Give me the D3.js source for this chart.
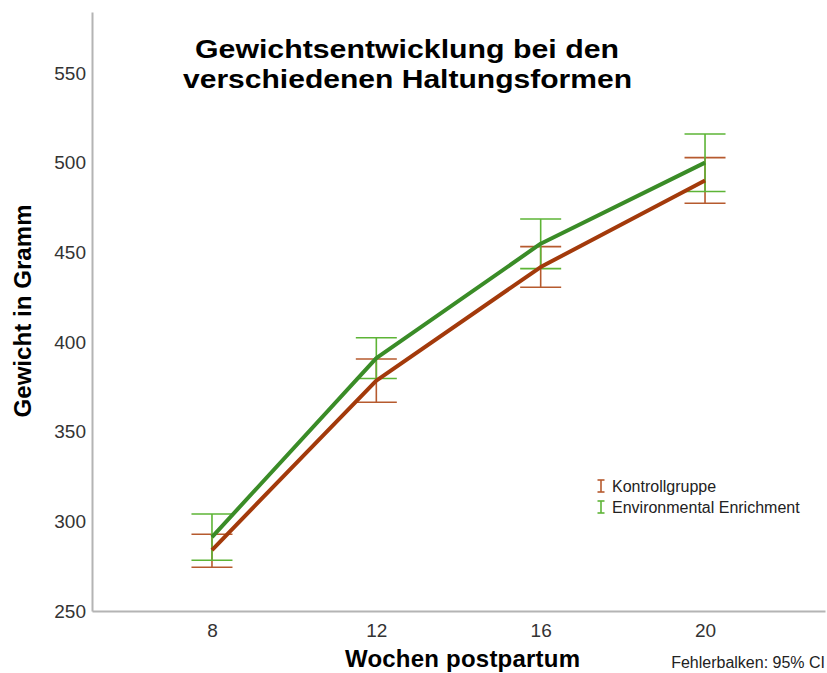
<!DOCTYPE html>
<html><head><meta charset="utf-8">
<script src="https://cdn.jsdelivr.net/npm/d3@7"></script>
<style>body{margin:0;background:#fff}svg{display:block}text{font-family:"Liberation Sans",Arial,sans-serif}</style>
</head><body>
<script>
const weeks = ["8","12","16","20"];
const seriesNames = ["Kontrollgruppe","Environmental Enrichment"];
const kontrollMean = [284.0, 378.5, 441.8, 490.1];
const kontrollLow  = [274.4, 366.4, 430.5, 477.4];
const kontrollHigh = [292.8, 390.5, 453.2, 502.8];
const enrichMean = [291.2, 391.0, 454.8, 500.0];
const enrichLow  = [278.3, 379.6, 440.9, 483.9];
const enrichHigh = [304.1, 402.4, 468.6, 516.0];
const yTicks = [250, 300, 350, 400, 450, 500, 550];
const lineColors = ["#a33a0b", "#3a8c27"];
const barColors = ["#b65a2e", "#5db436"];

const W = 827, H = 673;
const svg = d3.select("body").append("svg").attr("width", W).attr("height", H);

const x = d3.scalePoint().domain(weeks).range([92, 825]).padding(0.73);
const y = d3.scaleLinear().domain([250, 584]).range([611, 12]);

// axes
const yAxis = svg.append("g").attr("transform","translate(92,0)")
  .call(d3.axisLeft(y).tickValues(yTicks).tickSize(0).tickPadding(6));
yAxis.select(".domain").attr("stroke","#b4b4b4").attr("stroke-width",2);
yAxis.selectAll("text").attr("font-size",19).attr("fill","#333");
const xAxis = svg.append("g").attr("transform","translate(0,611)")
  .call(d3.axisBottom(x).tickSize(0).tickPadding(13));
xAxis.select(".domain").attr("stroke","#b4b4b4").attr("stroke-width",2);
xAxis.selectAll("text").attr("font-size",19).attr("fill","#333");

const series = [
  {name: seriesNames[0], mean: kontrollMean, lo: kontrollLow, hi: kontrollHigh, i: 0},
  {name: seriesNames[1], mean: enrichMean, lo: enrichLow, hi: enrichHigh, i: 1}
];
const capW = 20.5;
series.forEach(s => {
  const g = svg.append("g");
  weeks.forEach((w, k) => {
    const cx = x(w);
    g.append("line").attr("x1",cx).attr("x2",cx).attr("y1",y(s.lo[k])).attr("y2",y(s.hi[k]))
      .attr("stroke",barColors[s.i]).attr("stroke-width",1.6);
    [s.lo[k], s.hi[k]].forEach(v => g.append("line").attr("x1",cx-capW).attr("x2",cx+capW)
      .attr("y1",y(v)).attr("y2",y(v)).attr("stroke",barColors[s.i]).attr("stroke-width",1.6));
  });
});
series.forEach(s => {
  const line = d3.line().x((d,k)=>x(weeks[k])).y(d=>y(d));
  svg.append("path").datum(s.mean).attr("d", line).attr("fill","none")
    .attr("stroke",lineColors[s.i]).attr("stroke-width",4).attr("stroke-linejoin","round");
});

// legend
series.forEach((s, k) => {
  const ly = 486 + k*21, lx = 601;
  const g = svg.append("g");
  g.append("line").attr("x1",lx).attr("x2",lx).attr("y1",ly-6).attr("y2",ly+6).attr("stroke",barColors[s.i]).attr("stroke-width",1.6);
  g.append("line").attr("x1",lx-3.5).attr("x2",lx+3.5).attr("y1",ly-6).attr("y2",ly-6).attr("stroke",barColors[s.i]).attr("stroke-width",1.6);
  g.append("line").attr("x1",lx-3.5).attr("x2",lx+3.5).attr("y1",ly+6).attr("y2",ly+6).attr("stroke",barColors[s.i]).attr("stroke-width",1.6);
  g.append("text").attr("x",612).attr("y",ly+6).attr("font-size",16).attr("fill","#222").text(s.name);
});

// titles
svg.append("text").attr("x",407).attr("y",58).attr("text-anchor","middle").attr("font-size",25).attr("font-weight","bold").attr("fill","#000")
  .attr("textLength",424).attr("lengthAdjust","spacingAndGlyphs").text("Gewichtsentwicklung bei den");
svg.append("text").attr("x",407.5).attr("y",88).attr("text-anchor","middle").attr("font-size",25).attr("font-weight","bold").attr("fill","#000")
  .attr("textLength",449).attr("lengthAdjust","spacingAndGlyphs").text("verschiedenen Haltungsformen");

svg.append("text").attr("x",462.5).attr("y",667).attr("text-anchor","middle").attr("font-size",24).attr("font-weight","bold").attr("fill","#000")
  .attr("textLength",235).attr("lengthAdjust","spacing").text("Wochen postpartum");
svg.append("text").attr("transform","translate(31,311) rotate(-90)").attr("text-anchor","middle").attr("font-size",24).attr("font-weight","bold").attr("fill","#000")
  .attr("textLength",213).attr("lengthAdjust","spacing").text("Gewicht in Gramm");
svg.append("text").attr("x",825).attr("y",668).attr("text-anchor","end").attr("font-size",16).attr("fill","#222").text("Fehlerbalken: 95% CI");
</script>
</body></html>
